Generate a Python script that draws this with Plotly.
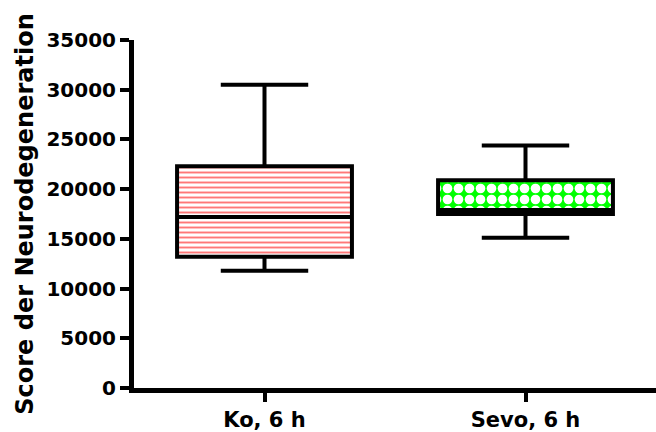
import plotly.graph_objects as go

categories = ["Ko, 6 h", "Sevo, 6 h"]
lower_whisker = [11800, 15100]
q1_values = [13200, 17500]
median_values = [17200, 17900]
q3_values = [22300, 20900]
upper_whisker = [30500, 24400]
y_ticks = [0, 5000, 10000, 15000, 20000, 25000, 30000, 35000]
y_title = "Score der Neurodegeneration"

pattern_shapes = ["-", "."]
pattern_fg = ["#ff7878", "#ffffff"]
pattern_bg = ["#ffffff", "#00ff00"]
pattern_size = [5, 11]
pattern_solidity = [0.38, 0.6]

box_width = 0.67
font_family = "DejaVu Sans"

fig = go.Figure()

# patterned box interiors (interquartile range), one trace per group
for i, cat in enumerate(categories):
    fig.add_trace(go.Bar(
        x=[cat],
        y=[q3_values[i] - q1_values[i]],
        base=[q1_values[i]],
        width=box_width,
        marker=dict(
            color=pattern_bg[i],
            line=dict(width=0),
            pattern=dict(shape=pattern_shapes[i], fgcolor=pattern_fg[i],
                         bgcolor=pattern_bg[i], size=pattern_size[i],
                         solidity=pattern_solidity[i], fillmode="overlay",
                         fgopacity=1),
        ),
        showlegend=False,
        hoverinfo="skip",
    ))

fig.add_trace(go.Box(
    x=categories,
    q1=q1_values,
    median=median_values,
    q3=q3_values,
    lowerfence=lower_whisker,
    upperfence=upper_whisker,
    width=box_width,
    whiskerwidth=0.5,
    boxpoints=False,
    fillcolor="rgba(0,0,0,0)",
    line=dict(color="black", width=4),
    showlegend=False,
    hoverinfo="skip",
))

fig.update_layout(
    width=656,
    height=432,
    margin=dict(l=134, r=0, t=40, b=42),
    paper_bgcolor="white",
    plot_bgcolor="white",
    showlegend=False,
    hovermode=False,
    barmode="overlay",
)

fig.update_xaxes(
    type="category",
    range=[-0.5, 1.5],
    showline=True,
    linecolor="black",
    linewidth=5,
    ticks="outside",
    ticklen=9,
    tickwidth=4,
    tickcolor="black",
    showgrid=False,
    zeroline=False,
    tickfont=dict(family=font_family, size=21, color="black", weight="bold"),
)

fig.update_yaxes(
    range=[0, 35000],
    tickvals=y_ticks,
    ticktext=[str(v) for v in y_ticks],
    showline=True,
    linecolor="black",
    linewidth=5,
    ticks="outside",
    ticklen=9,
    tickwidth=4,
    tickcolor="black",
    showgrid=False,
    zeroline=False,
    tickfont=dict(family=font_family, size=20, color="black", weight="bold"),
    title=dict(text=y_title, standoff=8,
               font=dict(family=font_family, size=24, color="black", weight="bold")),
)

fig.write_html("out.html")
